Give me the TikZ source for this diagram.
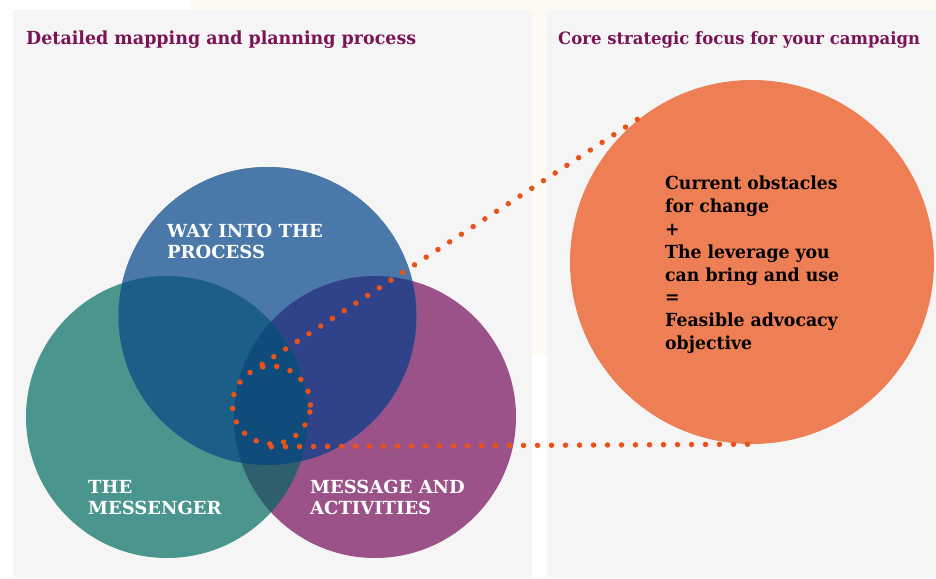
\documentclass[tikz,border=0pt]{standalone}
\usepackage{fontspec}
\newfontfamily\slabc[FakeStretch=0.97]{DejaVu Serif}
\newfontfamily\slabw{DejaVu Serif}
\newfontfamily\slabf[FakeStretch=0.96]{DejaVu Serif}
\definecolor{cream}{HTML}{FDFAF3}
\definecolor{panel}{HTML}{F5F5F5}
\definecolor{plum}{HTML}{7A1457}
\definecolor{vblue}{HTML}{4A78A8}
\definecolor{vteal}{HTML}{4A968F}
\definecolor{vpurple}{HTML}{9B5288}
\definecolor{vbt}{HTML}{1B5E88}
\definecolor{vbp}{HTML}{30438A}
\definecolor{vtp}{HTML}{2E5F6C}
\definecolor{vall}{HTML}{0F4C7C}
\definecolor{focusc}{HTML}{EE7F54}
\definecolor{dotc}{HTML}{E9531A}

\begin{document}
\begin{tikzpicture}[x=1pt,y=-1pt,
    venn/.style={shape=circle,inner sep=0pt,minimum size=#1},
    title/.style={anchor=north west,inner sep=0pt,text=plum,font=\slabc\fontsize{18}{21}\selectfont\bfseries},
    lbl/.style={anchor=north west,inner sep=0pt,align=left,text=white,font=\slabw\fontsize{18}{21}\selectfont\bfseries},
    dots/.style={draw=dotc,line width=5.5pt,line cap=round,dash pattern=on 0pt off 14pt}]
    \useasboundingbox (0,0) rectangle (936,578);
    \fill[white] (0,0) rectangle (936,578);
    \fill[cream] (190,0) rectangle (936,355);
    \fill[panel] (13,10) rectangle (532,577);
    \fill[panel] (547,10) rectangle (936,577);
    \node[title] (lefttitle) at (26,31) {Detailed mapping and planning process};
    \node[title,font=\slabc\fontsize{17}{21}\selectfont\bfseries] (righttitle) at (558,31) {Core strategic focus for your campaign};
    % venn circles
    \node[venn=298pt,fill=vblue] (way) at (267.5,316) {};
    \node[venn=282pt,fill=vteal] (messenger) at (167,417) {};
    \node[venn=282pt,fill=vpurple] (activities) at (375,417) {};
    \fill[vblue] (way.center) circle[radius=149pt];
    \begin{scope}
        \clip (way.center) circle[radius=149pt];
        \fill[vbt] (messenger.center) circle[radius=141pt];
        \fill[vbp] (activities.center) circle[radius=141pt];
    \end{scope}
    \begin{scope}
        \clip (messenger.center) circle[radius=141pt];
        \fill[vtp] (activities.center) circle[radius=141pt];
        \clip (way.center) circle[radius=149pt];
        \fill[vall] (activities.center) circle[radius=141pt];
    \end{scope}
    \node[lbl] (waylbl) at (167,224) {WAY INTO THE\\PROCESS};
    \node[lbl] (messlbl) at (88,480) {THE\\MESSENGER};
    \node[lbl] (actlbl) at (310,480) {MESSAGE AND\\ACTIVITIES};
    % focus circle
    \node[venn=364pt,fill=focusc] (focus) at (752,262) {};
    \node[anchor=north west,inner sep=0pt,align=left,font=\slabf\fontsize{18}{22.8}\selectfont\bfseries] (focustext) at (665,176)
        {Current obstacles\\for change\\+\\The leverage you\\can bring and use\\=\\Feasible advocacy\\objective};
    % dotted zoom ring and connectors
    \node[venn=78pt,dots] (zoom) at (271.5,405) {};
    \path[dots] (zoom.103) edge (focus.125);
    \path[dots] (zoom.south) edge (focus.south);
\end{tikzpicture}
\end{document}
